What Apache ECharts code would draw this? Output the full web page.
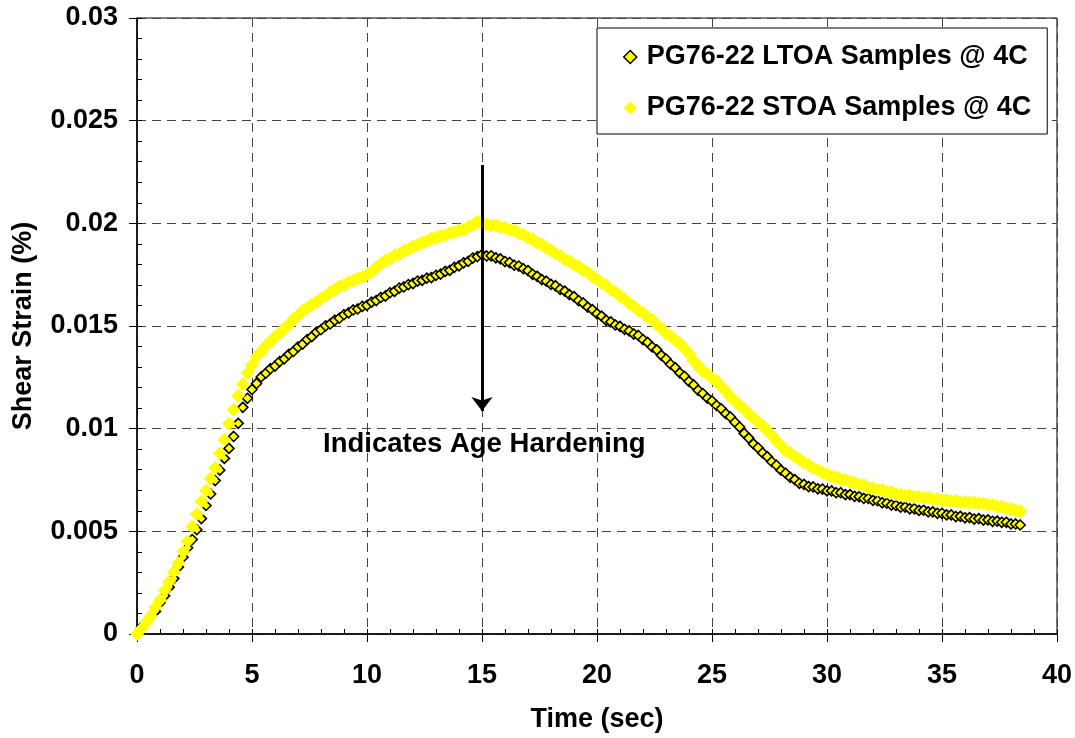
<!DOCTYPE html>
<html>
<head>
<meta charset="utf-8">
<script src="https://cdn.jsdelivr.net/npm/echarts@6/dist/echarts.min.js"></script>
<style>
html,body{margin:0;padding:0;background:#fff;}
#chart{width:1075px;height:738px;}
</style>
</head>
<body>
<div id="chart"></div>
<script>
// ---- data (time step 0.2 s, starting at 0 s) ----
const timeStart = 0;
const timeStep = 0.2;
const seriesNames = ['PG76-22 LTOA Samples @ 4C', 'PG76-22 STOA Samples @ 4C'];
const xTickLabels = ['0','5','10','15','20','25','30','35','40'];
const yTickLabels = ['0','0.005','0.01','0.015','0.02','0.025','0.03'];
const annotationText = 'Indicates Age Hardening';

const ltoaStrain = [
0.00000,0.00033,0.00058,0.00088,0.00110,
0.00152,0.00186,0.00228,0.00270,0.00326,
0.00374,0.00420,0.00460,0.00508,0.00562,
0.00626,0.00682,0.00747,0.00798,0.00855,
0.00904,0.00962,0.01026,0.01104,0.01148,
0.01191,0.01220,0.01252,0.01270,0.01292,
0.01305,0.01327,0.01340,0.01362,0.01376,
0.01398,0.01412,0.01434,0.01448,0.01470,
0.01482,0.01501,0.01510,0.01528,0.01538,
0.01555,0.01564,0.01578,0.01583,0.01596,
0.01601,0.01616,0.01624,0.01639,0.01646,
0.01662,0.01669,0.01685,0.01690,0.01702,
0.01707,0.01719,0.01722,0.01733,0.01736,
0.01747,0.01753,0.01766,0.01771,0.01786,
0.01793,0.01808,0.01815,0.01831,0.01838,
0.01848,0.01841,0.01842,0.01832,0.01827,
0.01814,0.01809,0.01796,0.01792,0.01779,
0.01770,0.01752,0.01742,0.01726,0.01718,
0.01703,0.01696,0.01679,0.01670,0.01653,
0.01643,0.01624,0.01612,0.01592,0.01580,
0.01560,0.01548,0.01528,0.01520,0.01505,
0.01498,0.01484,0.01476,0.01461,0.01454,
0.01434,0.01420,0.01398,0.01384,0.01357,
0.01339,0.01314,0.01297,0.01272,0.01255,
0.01230,0.01213,0.01187,0.01171,0.01149,
0.01135,0.01113,0.01097,0.01073,0.01057,
0.01031,0.01008,0.00977,0.00954,0.00926,
0.00907,0.00882,0.00864,0.00839,0.00822,
0.00798,0.00783,0.00763,0.00752,0.00734,
0.00729,0.00718,0.00716,0.00707,0.00706,
0.00697,0.00697,0.00688,0.00688,0.00679,
0.00679,0.00670,0.00669,0.00660,0.00660,
0.00651,0.00649,0.00639,0.00637,0.00628,
0.00626,0.00618,0.00618,0.00610,0.00610,
0.00602,0.00603,0.00595,0.00595,0.00588,
0.00588,0.00580,0.00580,0.00572,0.00573,
0.00566,0.00567,0.00560,0.00562,0.00555,
0.00556,0.00549,0.00550,0.00544,0.00544,
0.00536,0.00536,0.00531
];

const stoaStrain = [
0.00000,0.00025,0.00057,0.00088,0.00130,
0.00166,0.00212,0.00254,0.00302,0.00346,
0.00400,0.00452,0.00522,0.00583,0.00645,
0.00698,0.00757,0.00808,0.00879,0.00946,
0.01024,0.01092,0.01160,0.01216,0.01270,
0.01310,0.01352,0.01376,0.01404,0.01423,
0.01448,0.01464,0.01489,0.01506,0.01534,
0.01550,0.01576,0.01588,0.01606,0.01616,
0.01634,0.01646,0.01666,0.01676,0.01692,
0.01700,0.01714,0.01720,0.01732,0.01738,
0.01752,0.01764,0.01786,0.01802,0.01820,
0.01828,0.01844,0.01850,0.01866,0.01872,
0.01887,0.01894,0.01908,0.01913,0.01926,
0.01929,0.01940,0.01943,0.01953,0.01956,
0.01966,0.01969,0.01982,0.01992,0.02008,
0.01998,0.01994,0.01988,0.01990,0.01981,
0.01979,0.01968,0.01965,0.01952,0.01944,
0.01928,0.01922,0.01906,0.01897,0.01879,
0.01869,0.01852,0.01842,0.01824,0.01815,
0.01798,0.01789,0.01771,0.01760,0.01740,
0.01728,0.01709,0.01697,0.01677,0.01666,
0.01645,0.01631,0.01609,0.01595,0.01575,
0.01563,0.01543,0.01530,0.01506,0.01489,
0.01464,0.01451,0.01430,0.01415,0.01390,
0.01365,0.01331,0.01306,0.01280,0.01266,
0.01244,0.01231,0.01204,0.01183,0.01154,
0.01135,0.01111,0.01094,0.01070,0.01054,
0.01030,0.01015,0.00990,0.00968,0.00939,
0.00918,0.00893,0.00882,0.00863,0.00851,
0.00834,0.00824,0.00807,0.00799,0.00785,
0.00779,0.00766,0.00763,0.00752,0.00750,
0.00740,0.00737,0.00727,0.00724,0.00712,
0.00709,0.00701,0.00701,0.00692,0.00690,
0.00680,0.00679,0.00672,0.00674,0.00667,
0.00668,0.00662,0.00663,0.00656,0.00657,
0.00650,0.00652,0.00646,0.00648,0.00642,
0.00643,0.00639,0.00641,0.00635,0.00636,
0.00629,0.00629,0.00621,0.00620,0.00611,
0.00609,0.00601,0.00598
];

// arrow: from (15, 0.02284) down to (15, 0.01086)
const arrowX = 15;
const arrowFrom = 0.02284;
const arrowTo = 0.01086;
const textAt = [15.1, 0.00925];

// ---- build ----
function pairs(vals){
  return vals.map((v,i)=>[+(timeStart + i*timeStep).toFixed(2), v]);
}
const FONT = '"Liberation Sans", Arial, sans-serif';
const boldTxt = {fontFamily: FONT, fontWeight: 'bold', fontSize: 27, color: '#000'};

const chart = echarts.init(document.getElementById('chart'), null, {renderer:'canvas'});
const option = {
  animation: false,
  backgroundColor: '#fff',
  grid: {left:137, right:18, top:18, bottom:104, show:true, borderColor:'#000', borderWidth:1, backgroundColor:'transparent'},
  legend: {
    orient:'vertical', left:597, top:28,
    padding:[14, 16, 11, 26],
    itemGap: 21, itemWidth: 13, itemHeight: 13,
    backgroundColor:'#fff', borderColor:'#000', borderWidth:1,
    textStyle: Object.assign({}, boldTxt, {lineHeight:30, padding:[0,0,0,5]}),
    data:[
      {name: seriesNames[0], icon:'diamond', itemStyle:{color:'#FFFF00', borderColor:'#000', borderWidth:1.5}},
      {name: seriesNames[1], icon:'diamond', itemStyle:{color:'#FFFF00', borderWidth:0}}
    ]
  },
  xAxis: [
    {
      type:'value', min:0, max:40, interval:5,
      name:'Time (sec)', nameLocation:'middle', nameGap:72,
      nameTextStyle: boldTxt,
      axisLine:{show:true, onZero:false, lineStyle:{color:'#000', width:1.5}},
      axisTick:{show:true, inside:false, length:8, lineStyle:{color:'#000', width:1}},
      axisLabel:{margin:28, formatter:(v)=>xTickLabels[Math.round(v/5)] ?? '', ...boldTxt},
      splitLine:{show:true, lineStyle:{color:'#444', type:[9,6], width:1}}
    },
    {
      type:'value', min:0, max:40, interval:1, position:'bottom',
      axisLine:{show:false},
      axisTick:{show:true, inside:true, length:5, lineStyle:{color:'#000', width:1}},
      axisLabel:{show:false}, splitLine:{show:false}
    }
  ],
  yAxis: [
    {
      type:'value', min:0, max:0.03, interval:0.005,
      name:'Shear Strain (%)', nameLocation:'middle', nameGap:100,
      nameTextStyle: boldTxt,
      axisLine:{show:true, onZero:false, lineStyle:{color:'#000', width:1.5}},
      axisTick:{show:true, inside:false, length:8, lineStyle:{color:'#000', width:1}},
      axisLabel:{margin:19, formatter:(v)=>yTickLabels[Math.round(v/0.005)] ?? '', ...boldTxt},
      splitLine:{show:true, lineStyle:{color:'#444', type:[9,6], width:1}}
    },
    {
      type:'value', min:0, max:0.03, interval:0.001, position:'left',
      axisLine:{show:false},
      axisTick:{show:true, inside:true, length:5, lineStyle:{color:'#000', width:1}},
      axisLabel:{show:false}, splitLine:{show:false}
    }
  ],
  series: [
    {
      name: seriesNames[0], type:'scatter', xAxisIndex:0, yAxisIndex:0,
      symbol:'diamond', symbolSize:10,
      itemStyle:{color:'#FFFF00', borderColor:'#000', borderWidth:1.6, opacity:1},
      data: pairs(ltoaStrain), z:2
    },
    {
      name: seriesNames[1], type:'scatter', xAxisIndex:0, yAxisIndex:0,
      symbol:'diamond', symbolSize:14,
      itemStyle:{color:'#FFFF00', borderWidth:0, opacity:1},
      data: pairs(stoaStrain), z:3,
      markLine:{
        silent:true, z:10,
        symbol:['none','arrow'], symbolSize:[16,14],
        lineStyle:{color:'#000', width:3, type:'solid'},
        label:{show:false},
        data:[[{coord:[arrowX, arrowFrom]}, {coord:[arrowX, arrowTo]}]]
      },
      markPoint:{
        silent:true,
        symbol:'circle', symbolSize:1,
        itemStyle:{color:'rgba(0,0,0,0)'},
        label:{show:true, position:'inside', formatter: annotationText, ...boldTxt, fontSize:27.5},
        data:[{coord:textAt}]
      }
    }
  ]
};
chart.setOption(option);
</script>
</body>
</html>
